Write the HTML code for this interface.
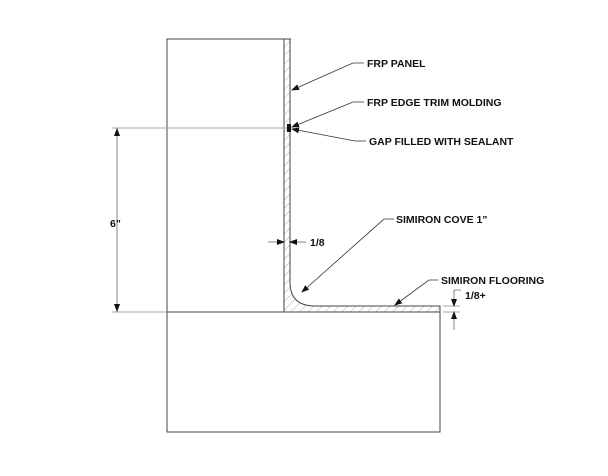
<!DOCTYPE html>
<html><head><style>
html,body{margin:0;padding:0;background:#fff;}
svg{display:block}
text{font-family:"Liberation Sans",sans-serif;font-weight:bold;font-size:10.5px;fill:#111;}
</style></head><body>
<svg width="608" height="476" viewBox="0 0 608 476" xmlns="http://www.w3.org/2000/svg">
<defs>
<pattern id="h" width="6" height="6" patternUnits="userSpaceOnUse" patternTransform="rotate(45)">
<line x1="0" y1="0" x2="0" y2="6" stroke="#777" stroke-width="0.6"/>
</pattern>
<marker id="a" markerWidth="8" markerHeight="6" refX="7" refY="3" orient="auto" markerUnits="userSpaceOnUse">
<path d="M0,0 L8,3 L0,6 z" fill="#111"/></marker>
</defs>
<rect x="167" y="39" width="117" height="273" fill="none" stroke="#444" stroke-width="1"/>
<line x1="167" y1="39" x2="291" y2="39" stroke="#444"/>
<path d="M284,39 L290,39 L290,282 Q290,306 315,306 L440,306 L440,312 L284,312 Z" fill="url(#h)" stroke="#444" stroke-width="1"/>
<rect x="167" y="312" width="273" height="120" fill="none" stroke="#444" stroke-width="1"/>
<line x1="112" y1="128" x2="290" y2="128" stroke="#aaa" stroke-width="1"/>
<line x1="112" y1="312" x2="167" y2="312" stroke="#aaa" stroke-width="1"/>
<line x1="117" y1="128" x2="117" y2="312" stroke="#666" stroke-width="0.8"/>
<path d="M114,136 L117,128 L120,136z M114,304 L117,312 L120,304z" fill="#111"/>
<text x="110" y="227">6"</text>
<line x1="268" y1="242" x2="284" y2="242" stroke="#666" stroke-width="0.8" marker-end="url(#a)"/>
<line x1="306" y1="242" x2="290" y2="242" stroke="#666" stroke-width="0.8" marker-end="url(#a)"/>
<text x="310" y="246">1/8</text>
<line x1="443" y1="306" x2="460" y2="306" stroke="#aaa"/>
<line x1="443" y1="312" x2="460" y2="312" stroke="#aaa"/>
<line x1="454" y1="292" x2="454" y2="306" stroke="#666" stroke-width="0.8" marker-end="url(#a)"/>
<line x1="454" y1="330" x2="454" y2="312" stroke="#666" stroke-width="0.8" marker-end="url(#a)"/>
<polyline points="454,292 454,290 461,290" fill="none" stroke="#666" stroke-width="0.8"/>
<text x="465" y="299">1/8+</text>
<g fill="none" stroke="#333" stroke-width="0.8">
<polyline points="364,63 353,63 292,90" marker-end="url(#a)"/>
<polyline points="364,102 353,102 292,127" marker-end="url(#a)"/>
<polyline points="366,141 355,141 292,129" marker-end="url(#a)"/>
<polyline points="394,219 384,219 302,292" marker-end="url(#a)"/>
<polyline points="438,280 429,280 395,305" marker-end="url(#a)"/>
</g>
<rect x="287" y="124" width="4" height="8" fill="#111"/>
<text x="367" y="67">FRP PANEL</text>
<text x="367" y="106">FRP EDGE TRIM MOLDING</text>
<text x="369" y="145">GAP FILLED WITH SEALANT</text>
<text x="396" y="223">SIMIRON COVE 1"</text>
<text x="441" y="284">SIMIRON FLOORING</text>
</svg>
</body></html>
